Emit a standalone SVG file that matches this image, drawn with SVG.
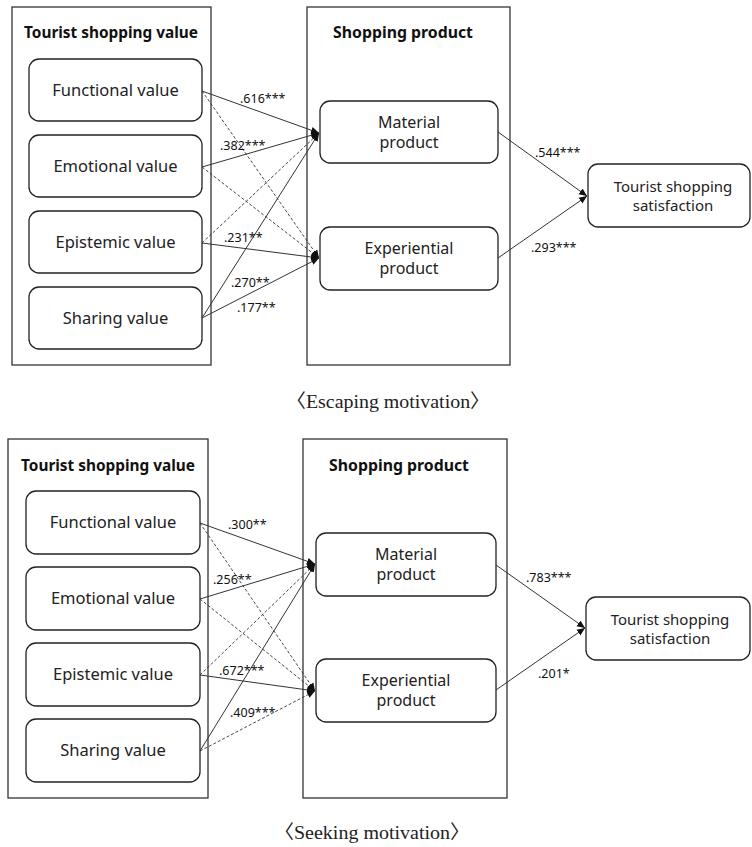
<svg xmlns="http://www.w3.org/2000/svg" width="752" height="847" viewBox="0 0 752 847">
<defs>
<marker id="ah" markerUnits="userSpaceOnUse" markerWidth="9" markerHeight="8" refX="8" refY="4" orient="auto">
<path d="M0,0.5 L8,4 L0,7.5 z" fill="#111"/>
</marker>
<style>
.frame{fill:#fff;stroke:#333;stroke-width:1.3}
.node{fill:#fff;stroke:#222;stroke-width:1.3}
.title{font-family:"Noto Sans","Open Sans",sans-serif;font-weight:bold;font-size:16px;fill:#111;text-anchor:middle}
.lbl{font-family:"Noto Sans","Open Sans",sans-serif;font-size:16.5px;fill:#222;text-anchor:middle}
.prod{font-family:"Noto Sans","Open Sans",sans-serif;font-size:16px;fill:#222;text-anchor:middle}
.sat{font-family:"Noto Sans","Open Sans",sans-serif;font-size:15px;fill:#222;text-anchor:middle}
.coef{font-family:"Noto Sans","Open Sans",sans-serif;font-size:12.5px;fill:#111}
.cap{font-family:"Liberation Serif","Noto Sans CJK KR",serif;font-size:19px;fill:#222;text-anchor:middle}
.solid{stroke:#333;stroke-width:1;fill:none;marker-end:url(#ah)}
.dash{stroke:#333;stroke-width:0.9;fill:none;stroke-dasharray:3,2;marker-end:url(#ah)}
.plain{stroke:#333;stroke-width:1;fill:none;marker-end:url(#ah)}
</style>
</defs>
<rect width="752" height="847" fill="#fff"/>

<!-- ===== Escaping motivation ===== -->
<g id="top-value-group">
<rect class="frame" x="12" y="7" width="199" height="358"/>
<text class="title" x="111" y="38" textLength="174" lengthAdjust="spacingAndGlyphs">Tourist shopping value</text>
</g>
<g id="top-functional"><rect class="node" x="29" y="59" width="173" height="62" rx="10"/><text class="lbl" x="115.5" y="96">Functional value</text></g>
<g id="top-emotional"><rect class="node" x="29" y="135" width="173" height="62" rx="10"/><text class="lbl" x="115.5" y="172">Emotional value</text></g>
<g id="top-epistemic"><rect class="node" x="29" y="211" width="173" height="62" rx="10"/><text class="lbl" x="115.5" y="248">Epistemic value</text></g>
<g id="top-sharing"><rect class="node" x="29" y="287" width="173" height="62" rx="10"/><text class="lbl" x="115.5" y="324">Sharing value</text></g>

<g id="top-product-group">
<rect class="frame" x="307" y="7" width="203" height="358"/>
<text class="title" x="403" y="38" textLength="140" lengthAdjust="spacingAndGlyphs">Shopping product</text>
</g>
<g id="top-material"><rect class="node" x="320" y="101" width="178" height="62" rx="10"/><text class="prod" x="409" y="128">Material</text><text class="prod" x="409" y="148">product</text></g>
<g id="top-experiential"><rect class="node" x="320" y="227" width="178" height="63" rx="10"/><text class="prod" x="409" y="254">Experiential</text><text class="prod" x="409" y="274">product</text></g>
<g id="top-satisfaction"><rect class="node" x="588" y="164" width="162" height="63" rx="10"/><text class="sat" x="673" y="192">Tourist shopping</text><text class="sat" x="673" y="211">satisfaction</text></g>

<g id="top-connectors">
<line class="solid" x1="202" y1="91" x2="319" y2="133"/>
<line class="solid" x1="202" y1="167" x2="319" y2="133"/>
<line class="dash" x1="202" y1="243" x2="319" y2="133"/>
<line class="solid" x1="202" y1="318" x2="319" y2="133"/>
<line class="dash" x1="202" y1="91" x2="319" y2="258"/>
<line class="dash" x1="202" y1="167" x2="319" y2="258"/>
<line class="solid" x1="202" y1="243" x2="319" y2="258"/>
<line class="solid" x1="202" y1="318" x2="319" y2="258"/>
<line class="plain" x1="498" y1="132" x2="587" y2="196"/>
<line class="plain" x1="498" y1="258" x2="587" y2="196"/>
<text class="coef" x="240" y="103">.616***</text>
<text class="coef" x="220" y="150">.382***</text>
<text class="coef" x="224" y="242">.231**</text>
<text class="coef" x="231" y="287">.270**</text>
<text class="coef" x="237" y="312">.177**</text>
<text class="coef" x="535" y="157">.544***</text>
<text class="coef" x="531" y="252">.293***</text>
</g>
<text class="cap" x="388" y="408" textLength="204" lengthAdjust="spacingAndGlyphs">〈Escaping motivation〉</text>

<!-- ===== Seeking motivation ===== -->
<g id="bot-value-group">
<rect class="frame" x="8" y="439" width="200" height="359"/>
<text class="title" x="108" y="471" textLength="174" lengthAdjust="spacingAndGlyphs">Tourist shopping value</text>
</g>
<g id="bot-functional"><rect class="node" x="26" y="491" width="174" height="63" rx="10"/><text class="lbl" x="113" y="528">Functional value</text></g>
<g id="bot-emotional"><rect class="node" x="26" y="567" width="174" height="63" rx="10"/><text class="lbl" x="113" y="604">Emotional value</text></g>
<g id="bot-epistemic"><rect class="node" x="26" y="643" width="174" height="63" rx="10"/><text class="lbl" x="113" y="680">Epistemic value</text></g>
<g id="bot-sharing"><rect class="node" x="26" y="719" width="174" height="63" rx="10"/><text class="lbl" x="113" y="756">Sharing value</text></g>

<g id="bot-product-group">
<rect class="frame" x="303" y="439" width="204" height="359"/>
<text class="title" x="399" y="471" textLength="140" lengthAdjust="spacingAndGlyphs">Shopping product</text>
</g>
<g id="bot-material"><rect class="node" x="316" y="533" width="180" height="63" rx="10"/><text class="prod" x="406" y="560">Material</text><text class="prod" x="406" y="580">product</text></g>
<g id="bot-experiential"><rect class="node" x="316" y="659" width="180" height="63" rx="10"/><text class="prod" x="406" y="686">Experiential</text><text class="prod" x="406" y="706">product</text></g>
<g id="bot-satisfaction"><rect class="node" x="586" y="597" width="164" height="63" rx="10"/><text class="sat" x="670" y="625">Tourist shopping</text><text class="sat" x="670" y="644">satisfaction</text></g>

<g id="bot-connectors">
<line class="solid" x1="200" y1="523" x2="315" y2="564"/>
<line class="solid" x1="200" y1="599" x2="315" y2="564"/>
<line class="dash" x1="200" y1="675" x2="315" y2="564"/>
<line class="solid" x1="200" y1="751" x2="315" y2="564"/>
<line class="dash" x1="200" y1="523" x2="315" y2="691"/>
<line class="dash" x1="200" y1="599" x2="315" y2="691"/>
<line class="solid" x1="200" y1="675" x2="315" y2="691"/>
<line class="dash" x1="200" y1="751" x2="315" y2="691"/>
<line class="plain" x1="496" y1="565" x2="585" y2="628"/>
<line class="plain" x1="496" y1="690" x2="585" y2="628"/>
<text class="coef" x="228" y="529">.300**</text>
<text class="coef" x="213" y="584">.256**</text>
<text class="coef" x="219" y="675">.672***</text>
<text class="coef" x="230" y="717">.409***</text>
<text class="coef" x="526" y="582">.783***</text>
<text class="coef" x="538" y="678">.201*</text>
</g>
<text class="cap" x="372" y="839" textLength="196" lengthAdjust="spacingAndGlyphs">〈Seeking motivation〉</text>
</svg>
